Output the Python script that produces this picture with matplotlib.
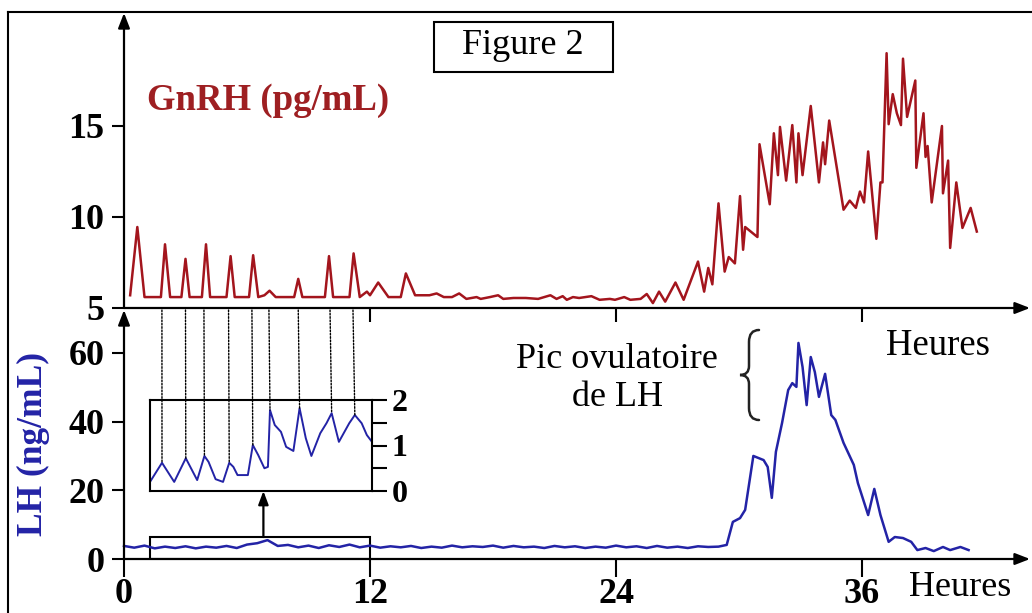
import matplotlib
matplotlib.use("Agg")
import matplotlib.pyplot as plt
import numpy as np
from matplotlib.lines import Line2D
from matplotlib.patches import Rectangle, ConnectionPatch, PathPatch
from matplotlib.path import Path

# GnRH (pg/mL), top panel
gnrh_hours = [0.3, 0.65, 1.0, 1.8, 2.0, 2.25, 2.8, 3.0, 3.2, 3.8, 4.0, 4.2, 5.0, 5.2, 5.4,
              6.1, 6.3, 6.55, 6.85, 7.1, 7.4, 8.3, 8.5, 8.7, 9.8, 10.0, 10.2, 11.0, 11.2, 11.5,
              11.85, 12.0, 12.4, 12.9, 13.5, 13.75, 14.2, 14.9, 15.25, 15.6, 16.0, 16.35,
              16.7, 17.2, 17.4, 17.85, 18.25, 18.5, 19.0, 19.6, 20.2, 20.8, 21.1, 21.4,
              21.6, 21.9, 22.2, 22.8, 23.2, 23.7, 23.95, 24.4, 24.7, 25.2, 25.5, 25.8,
              26.1, 26.4, 26.9, 27.3, 28.0, 28.3, 28.5, 28.7, 29.0, 29.3, 29.5, 29.8,
              30.05, 30.2, 30.3, 30.9, 31.0, 31.5, 31.7, 31.9, 32.0, 32.3, 32.6, 32.8,
              32.9, 33.1, 33.5, 33.9, 34.1, 34.2, 34.4, 35.1, 35.4, 35.7, 35.9, 36.1,
              36.3, 36.7, 36.9, 37.0, 37.2, 37.3, 37.5, 37.7, 37.9, 38.0, 38.2, 38.6,
              38.65, 39.0, 39.1, 39.2, 39.4, 39.9, 39.95, 40.2, 40.3, 40.6, 40.9, 41.3, 41.6]
gnrh_values = [5.7, 9.45, 5.6, 5.6, 8.5, 5.6, 5.6, 7.7, 5.6, 5.6, 8.5, 5.6, 5.6, 7.85, 5.6,
               5.6, 7.9, 5.6, 5.7, 5.95, 5.6, 5.6, 6.6, 5.6, 5.6, 7.85, 5.6, 5.6, 8.0, 5.6,
               5.9, 5.7, 6.4, 5.6, 5.6, 6.9, 5.7, 5.7, 5.8, 5.6, 5.6, 5.8,
               5.5, 5.6, 5.5, 5.6, 5.7, 5.5, 5.55, 5.55, 5.5, 5.7, 5.5, 5.65,
               5.45, 5.6, 5.55, 5.65, 5.45, 5.5, 5.45, 5.6, 5.45, 5.5, 5.77, 5.27,
               5.9, 5.35, 6.4, 5.45, 7.55, 5.9, 7.2, 6.3, 10.75, 7.0, 7.8, 7.45,
               11.15, 8.2, 9.45, 8.9, 14.0, 10.7, 14.6, 12.3, 14.95, 12.0, 15.05, 11.9,
               14.6, 12.3, 16.1, 11.9, 14.1, 12.9, 15.3, 10.4, 10.9, 10.5, 11.4, 10.8,
               13.6, 8.8, 11.9, 11.9, 19.0, 15.1, 16.75, 15.7, 15.05, 18.7, 15.5, 17.5,
               12.7, 15.7, 13.3, 13.9, 10.8, 15.0, 11.3, 13.1, 8.3, 11.9, 9.4, 10.5, 9.2]

# LH (ng/mL), bottom panel
lh_base_hours = list(np.arange(0, 29.5, 0.5))
lh_base_values = [3.8, 3.3, 3.9, 3.1, 3.6, 3.2, 3.7, 3.1, 3.6, 3.3, 3.8, 3.2, 4.2, 4.6, 5.5,
                  3.8, 4.1, 3.4, 3.9, 3.2, 4.0, 3.5, 4.2, 3.4, 3.9, 3.3, 3.7, 3.4, 3.8, 3.2,
                  3.6, 3.3, 3.9, 3.4, 3.7, 3.5, 3.9, 3.3, 3.8, 3.4, 3.6, 3.2, 3.8, 3.4, 3.7,
                  3.2, 3.6, 3.3, 3.9, 3.4, 3.7, 3.2, 3.8, 3.3, 3.6, 3.2, 3.7, 3.5, 3.6]
lh_peak_hours = [29.4, 29.7, 30.05, 30.3, 30.7, 31.2, 31.4, 31.6, 31.8, 32.1, 32.4, 32.6,
                 32.8, 32.9, 33.1, 33.3, 33.5, 33.7, 33.9, 34.2, 34.5, 34.7, 35.1, 35.6,
                 35.8, 36.3, 36.6, 36.9, 37.3, 37.6, 38.0, 38.4, 38.7, 39.1, 39.5, 39.95,
                 40.3, 40.8, 41.2]
lh_peak_values = [4.1, 10.8, 11.9, 14.3, 30.0, 28.8, 26.8, 17.8, 31.2, 39.6, 49.2, 51.2,
                  50.1, 62.9, 55.9, 44.8, 58.8, 54.4, 47.2, 53.9, 41.9, 40.5, 33.8, 27.4,
                  22.1, 12.8, 20.4, 12.8, 5.0, 6.4, 6.1, 5.0, 2.6, 3.2, 2.3, 3.5,
                  2.6, 3.5, 2.6]

# zoomed LH detail (inset), hours 1.27 - 12
inset_hours = [1.27, 1.85, 2.44, 3.0, 3.55, 3.9, 4.1, 4.44, 4.8, 5.1, 5.3, 5.5, 6.0, 6.24,
               6.5, 6.8, 6.97, 7.07, 7.3, 7.6, 7.85, 8.2, 8.5, 8.8, 9.07, 9.5, 9.8, 10.05,
               10.4, 10.9, 11.17, 11.5, 11.75, 12.0]
inset_values = [0.2, 0.62, 0.2, 0.72, 0.24, 0.77, 0.64, 0.26, 0.2, 0.62, 0.53, 0.35, 0.35,
                1.01, 0.79, 0.5, 0.53, 1.78, 1.45, 1.3, 0.97, 0.88, 1.82, 1.16, 0.77, 1.27,
                1.49, 1.71, 1.08, 1.49, 1.67, 1.49, 1.23, 1.08]
pulse_hours = [1.85, 3.0, 3.9, 5.1, 6.24, 7.07, 8.5, 10.05, 11.17]

red = "#a3151d"
blue = "#2323a6"
plt.rcParams["font.family"] = "Liberation Serif"

W, H = 1032, 613
fig = plt.figure(figsize=(W / 100, H / 100), dpi=100)


def box(x0, y0, x1, y1):
    # pixel box (top-left origin) -> figure fraction rect
    return [x0 / W, 1 - y1 / H, (x1 - x0) / W, (y1 - y0) / H]


def fpt(x, y):
    return (x / W, 1 - y / H)


XMAX = (1030 - 124) / 20.5
ax_top = fig.add_axes(box(124, 13, 1030, 308))
ax_bot = fig.add_axes(box(124, 310, 1030, 559))
ax_top.set_xlim(0, XMAX)
ax_top.set_ylim(5, 5 + (308 - 13) / 91 * 5)
ax_bot.set_xlim(0, XMAX)
ax_bot.set_ylim(0, (559 - 310) / 68.7 * 20)

arrow = dict(arrowstyle="-|>,head_length=0.9,head_width=0.35", color="black", lw=1.6,
             shrinkA=0, shrinkB=0)
for ax in (ax_top, ax_bot):
    for s in ax.spines.values():
        s.set_visible(False)
    ax.patch.set_alpha(0)
    y0, y1 = ax.get_ylim()
    ax.annotate("", xy=(XMAX, y0), xytext=(0, y0), arrowprops=arrow, annotation_clip=False)
    ax.annotate("", xy=(0, y1), xytext=(0, y0), arrowprops=arrow, annotation_clip=False)
    ax.tick_params(axis="both", direction="out", width=1.5, length=9, colors="black",
                   labelsize=26, pad=3)

ax_top.plot(gnrh_hours, gnrh_values, color=red, lw=1.8, clip_on=False)
ax_top.set_yticks([5, 10, 15])
ax_top.set_xticks([12, 24, 36])
ax_top.tick_params(axis="x", labelbottom=False, length=10)
ax_top.tick_params(axis="y", pad=5)
for lab in ax_top.get_yticklabels():
    lab.set_fontweight("bold")

ax_bot.plot(lh_base_hours + lh_peak_hours, lh_base_values + lh_peak_values,
            color=blue, lw=1.8, clip_on=False)
ax_bot.set_yticks([0, 20, 40, 60])
ax_bot.set_xticks([0, 12, 24, 36])
ax_bot.tick_params(axis="x", length=13, pad=1)
ax_bot.tick_params(axis="y", pad=5)
for lab in ax_bot.get_yticklabels() + ax_bot.get_xticklabels():
    lab.set_fontweight("bold")

# small frame around the zoomed region + arrow to inset
box_h = (559 - 537) / 68.7 * 20
ax_bot.add_patch(Rectangle((1.27, 0), 12 - 1.27, box_h, fill=False, lw=1.5, ec="black"))
inset_bottom = (559 - 491) / 68.7 * 20
ax_bot.annotate("", xy=(6.8, inset_bottom), xytext=(6.8, box_h),
                arrowprops=dict(arrowstyle="-|>,head_length=0.8,head_width=0.3",
                                color="black", lw=1.6, shrinkA=0, shrinkB=0))

ax_in = fig.add_axes(box(150, 400, 372, 491))
ax_in.plot(inset_hours, inset_values, color=blue, lw=1.4)
ax_in.set_xlim(1.27, 12)
ax_in.set_ylim(0, 2)
for s in ax_in.spines.values():
    s.set_linewidth(1.5)
ax_in.set_xticks([])
ax_in.yaxis.tick_right()
ax_in.set_yticks([0, 1, 2])
ax_in.set_yticks([0.5, 1.5], minor=True)
ax_in.tick_params(axis="y", which="both", direction="out", length=11, width=1.5,
                  labelsize=23, pad=3)
for lab in ax_in.get_yticklabels():
    lab.set_fontweight("bold")

# dotted lines from GnRH pulses down to the LH pulses in the inset
for h in pulse_hours:
    cp = ConnectionPatch(xyA=(h, 1), coordsA=ax_bot.get_xaxis_transform(),
                         xyB=(h, np.interp(h, inset_hours, inset_values)), coordsB=ax_in.transData,
                         ls=(0, (1.2, 1.2)), lw=1.0, color="black")
    fig.add_artist(cp)

# texts
fig.text(147 / W, 1 - 100 / H, "GnRH (pg/mL)", color="#9e1f22", fontsize=26.5,
         fontweight="bold", va="center", ha="left")
fig.text(33 / W, 1 - 444 / H, "LH (ng/mL)", color=blue, fontsize=25.5, fontweight="bold",
         rotation=90, va="center", ha="center")
fig.add_artist(Rectangle((434 / W, 1 - 72 / H), 179 / W, 50 / H, transform=fig.transFigure,
                         fill=False, ec="black", lw=1.5))
fig.text(523 / W, 1 - 45 / H, "Figure 2", fontsize=26, va="center", ha="center")
fig.text(617 / W, 1 - 378 / H, "Pic ovulatoire\nde LH", fontsize=26, va="center",
         ha="center", linespacing=1.2)
fig.text(938 / W, 1 - 346 / H, "Heures", fontsize=26.5, va="center", ha="center")
fig.text(960 / W, 1 - 588 / H, "Heures", fontsize=26, va="center", ha="center")

# curly brace next to the LH surge label
brace = Path([fpt(759, 330), fpt(749, 330), fpt(749, 342), fpt(749, 366),
              fpt(749, 375), fpt(740, 375), fpt(749, 375), fpt(749, 384),
              fpt(749, 408), fpt(749, 420), fpt(759, 420)],
             [Path.MOVETO, Path.CURVE3, Path.CURVE3, Path.LINETO,
              Path.CURVE3, Path.CURVE3, Path.CURVE3, Path.CURVE3,
              Path.LINETO, Path.CURVE3, Path.CURVE3])
fig.add_artist(PathPatch(brace, transform=fig.transFigure, fill=False, lw=1.8,
                         ec="#222222", capstyle="round"))

# outer frame (left and top)
fig.add_artist(Line2D([8 / W, 8 / W], [0, 1 - 12 / H], color="black", lw=1.5))
fig.add_artist(Line2D([8 / W, 1], [1 - 12 / H, 1 - 12 / H], color="black", lw=1.5))

fig.savefig("out.png", dpi=100)
